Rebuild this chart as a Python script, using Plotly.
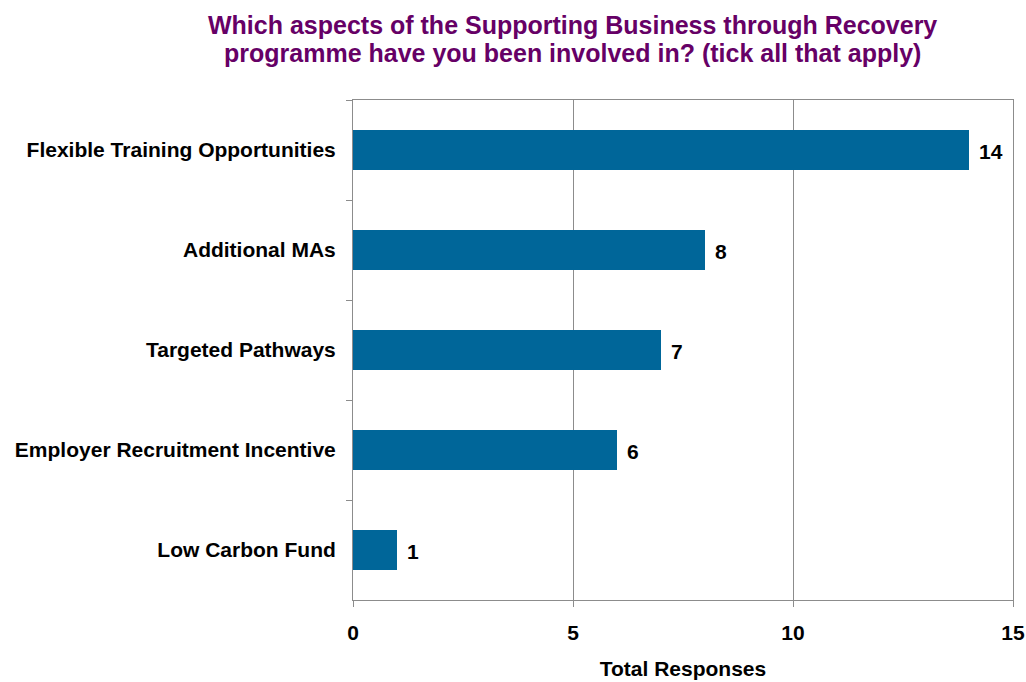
import plotly.graph_objects as go

categories = [
    "Flexible Training Opportunities",
    "Additional MAs",
    "Targeted Pathways",
    "Employer Recruitment Incentive",
    "Low Carbon Fund",
]
responses = [14, 8, 7, 6, 1]
x_ticks = [0, 5, 10, 15]
title_lines = [
    "Which aspects of the Supporting Business through Recovery",
    "programme have you been involved in? (tick all that apply)",
]

BAR = "#006699"
TITLE = "#660066"
GRID = "#8c8c8c"
FONT = "Liberation Sans, Arial, sans-serif"
LABEL_FONT = dict(family=FONT, size=21, color="black", weight="bold")

fig = go.Figure(
    go.Bar(
        y=categories,
        x=responses,
        orientation="h",
        width=0.4,
        marker=dict(color=BAR, line=dict(width=0)),
        hoverinfo="x+y",
    )
)

# value labels just to the right of each bar end
value_labels = [
    dict(
        x=v, y=c, xref="x", yref="y",
        text=str(v), showarrow=False,
        xanchor="left", yanchor="middle", xshift=8, yshift=-1,
        font=LABEL_FONT,
    )
    for c, v in zip(categories, responses)
]

# two-line title, tighter line spacing than the default <br>
title_notes = [
    dict(
        text=line,
        xref="paper", yref="paper",
        x=(572 - 353) / 660, y=1,
        yshift=75 - 28 * i, yanchor="middle", xanchor="center",
        showarrow=False,
        font=dict(family=FONT, size=25, color=TITLE, weight="bold"),
    )
    for i, line in enumerate(title_lines)
]

fig.update_layout(
    width=1026,
    height=682,
    margin=dict(l=353, r=13, t=100, b=82, autoexpand=False),
    paper_bgcolor="white",
    plot_bgcolor="white",
    showlegend=False,
    font=dict(family=FONT, size=21, color="black"),
    annotations=value_labels + title_notes,
)

fig.update_xaxes(
    range=[0, 15],
    tickvals=x_ticks,
    ticks="outside",
    ticklen=6,
    tickcolor=GRID,
    showgrid=True,
    gridcolor=GRID,
    gridwidth=1,
    showline=True,
    linecolor=GRID,
    linewidth=1,
    mirror=True,
    zeroline=False,
    automargin=False,
    tickfont=LABEL_FONT,
    ticklabelstandoff=8,
    title=dict(text="Total Responses", font=LABEL_FONT, standoff=18),
)

fig.update_yaxes(
    categoryorder="array",
    categoryarray=categories,
    autorange="reversed",
    ticks="outside",
    tickson="boundaries",
    ticklen=6,
    tickcolor=GRID,
    showgrid=False,
    showline=True,
    linecolor=GRID,
    linewidth=1,
    mirror=True,
    automargin=False,
    tickfont=LABEL_FONT,
    ticklabelstandoff=12,
)

fig.write_html("out.html")
